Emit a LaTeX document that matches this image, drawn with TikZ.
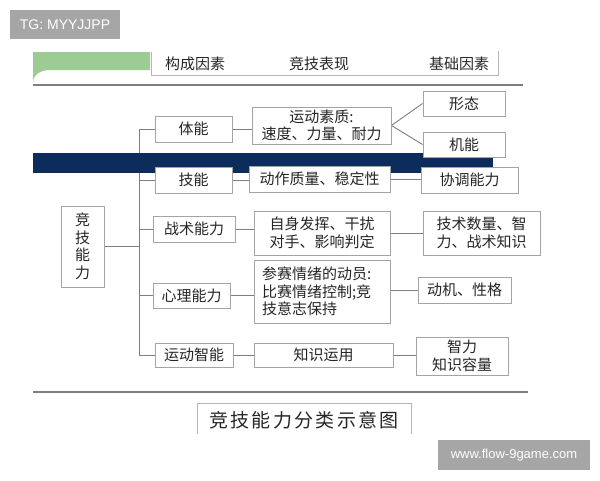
\documentclass[tikz,border=0pt]{standalone}
\usepackage{fontspec}
\setmainfont{Noto Sans CJK SC}
\newfontfamily\latinfont{Liberation Sans}
\newfontfamily\titlefont{Noto Sans CJK SC}[LetterSpace=12]
\definecolor{navy}{HTML}{0C2D5C}
\definecolor{greentab}{HTML}{9CCB94}
\definecolor{boxline}{HTML}{A4A4A4}
\definecolor{connline}{HTML}{7E7E7E}
\definecolor{txt}{HTML}{262626}
\definecolor{badge}{HTML}{A6A6A6}
\pgfdeclarelayer{bglayer}
\pgfdeclarelayer{connlayer}
\pgfdeclarelayer{barlayer}
\pgfsetlayers{bglayer,connlayer,barlayer,main}
\begin{document}
\begin{tikzpicture}[x=1pt,y=-1pt,
  box/.style={draw=boxline, line width=0.9pt, fill=white, inner sep=0pt, text=txt,
    font=\fontsize{15}{17.5}\selectfont, align=center},
  conn/.style={draw=connline, line width=0.9pt},
  hdrtext/.style={text=txt, font=\fontsize{15}{18}\selectfont, inner sep=0pt},
  badgebox/.style={fill=badge, text=white, inner sep=0pt}]
\useasboundingbox (0,0) rectangle (600,480);
\begin{pgfonlayer}{bglayer}
\fill[white] (0,0) rectangle (600,480);
\end{pgfonlayer}

% badges
\node[badgebox, minimum width=110pt, minimum height=29pt, font=\latinfont\fontsize{14}{16}\selectfont] (tg) at (65,24.5) {TG: MYYJJPP};
\node[badgebox, minimum width=152pt, minimum height=30pt, font=\latinfont\fontsize{13}{15}\selectfont] (web) at (514,455) {www.flow-9game.com};

% header
\fill[greentab] (33,83) -- (33,52) -- (150,52) -- (150,70) -- (50,70) .. controls (40,70) and (33,75) .. (33,83) -- cycle;
\draw[draw=boxline!80, line width=0.9pt] (151,52) -- (151,75) -- (498,75) -- (498,51);
\node[hdrtext] (h1) at (195,64) {构成因素};
\node[hdrtext] (h2) at (319,64) {竞技表现};
\node[hdrtext] (h3) at (459,64) {基础因素};
\draw[draw=connline, line width=1.1pt] (33,85) -- (523,85);

% navy bar
\begin{pgfonlayer}{barlayer}
\fill[navy] (33,153) rectangle (493,173);
\end{pgfonlayer}

% boxes
\node[box, minimum width=82pt, minimum height=25pt] (xt) at (464,103.5) {形态};
\node[box, minimum width=82pt, minimum height=25pt] (jineng) at (464,144.5) {机能};
\node[box, minimum width=139pt, minimum height=37pt] (sz) at (321.5,125.5) {运动素质:\\速度、力量、耐力};
\node[box, minimum width=77pt, minimum height=26pt] (tn) at (193.5,129) {体能};
\node[box, minimum width=77pt, minimum height=26pt] (jn) at (193.5,180) {技能};
\node[box, minimum width=141pt, minimum height=26pt] (dz) at (319.5,179) {动作质量、稳定性};
\node[box, minimum width=97pt, minimum height=26pt] (xd) at (469.5,180) {协调能力};
\node[box, minimum width=43pt, minimum height=81pt] (jj) at (82.5,246.5) {竞\\技\\能\\力};
\node[box, minimum width=82pt, minimum height=26pt] (zs) at (194,229) {战术能力};
\node[box, minimum width=136pt, minimum height=44pt] (zf) at (322,233) {自身发挥、干扰\\对手、影响判定};
\node[box, minimum width=117pt, minimum height=44pt] (js) at (481.5,233) {技术数量、智\\力、战术知识};
\node[box, minimum width=77pt, minimum height=25pt] (xl) at (191.5,295.5) {心理能力};
\node[box, minimum width=136pt, minimum height=63pt, text width=120pt, align=left] (cs) at (322,291.5) {参赛情绪的动员:\\比赛情绪控制;竞\\技意志保持};
\node[box, minimum width=93pt, minimum height=26pt] (dj) at (464.5,290) {动机、性格};
\node[box, minimum width=78pt, minimum height=24pt] (zn) at (194,355) {运动智能};
\node[box, minimum width=139pt, minimum height=24pt] (zy) at (323.5,355) {知识运用};
\node[box, minimum width=92pt, minimum height=38pt] (zl) at (462,356) {智力\\知识容量};

% connectors
\begin{pgfonlayer}{connlayer}
\draw[conn] (tn.west) -- ++(-15,0) coordinate (trunk) |- (zn.west);
\draw[conn] (jn.west) -- (jn.west -| trunk);
\draw[conn] (zs.west) -- (zs.west -| trunk);
\draw[conn] (xl.west) -- (xl.west -| trunk);
\draw[conn] (jj.east) -- (jj.east -| trunk);
\draw[conn] (tn.east) -- (tn.east -| sz.west);
\draw[conn] (sz.east) -- (xt.west);
\draw[conn] (sz.east) -- (jineng.west);
\draw[conn] (jn.east) -- (jn.east -| dz.west);
\draw[conn] (dz.east) -- (dz.east -| xd.west);
\draw[conn] (zs.east) -- (zs.east -| zf.west);
\draw[conn] (zf.east) -- (zf.east -| js.west);
\draw[conn] (xl.east) -- (xl.east -| cs.west);
\draw[conn] (dj.west -| cs.east) -- (dj.west);
\draw[conn] (zn.east) -- (zn.east -| zy.west);
\draw[conn] (zy.east) -- (zy.east -| zl.west);
\end{pgfonlayer}

% bottom
\draw[draw=connline, line width=1.1pt] (33,392) -- (528,392);
\draw[draw=boxline!80, line width=0.9pt] (197,434) -- (197,403) -- (411,403) -- (411,434);
\node[text=txt, inner sep=0pt, font=\titlefont\fontsize{19}{22}\selectfont] (title) at (304,420) {竞技能力分类示意图};
\end{tikzpicture}
\end{document}
